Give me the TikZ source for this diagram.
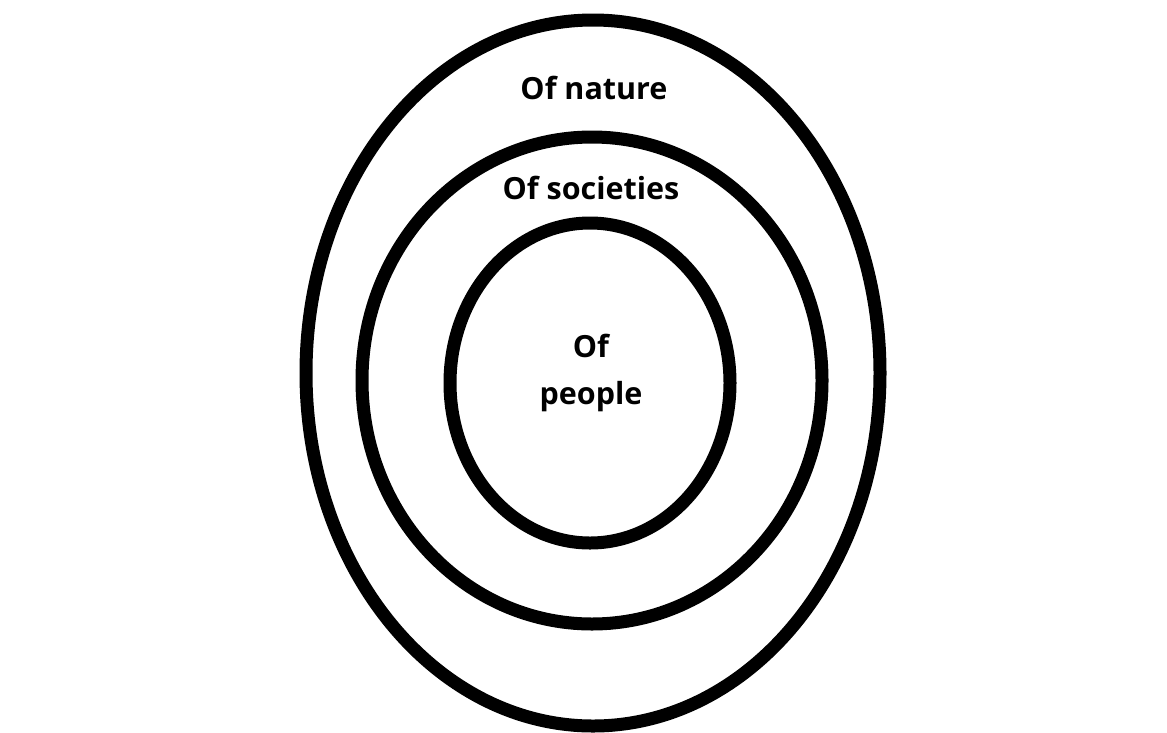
\documentclass[tikz,border=0pt]{standalone}
\usepackage{fontspec}
\setmainfont{Open Sans}
\usetikzlibrary{shapes.geometric}
\begin{document}
\begin{tikzpicture}[x=1pt,y=-1pt,
  ring/.style={draw=black, line width=13pt, ellipse, inner sep=0pt, outer sep=0pt},
  lbl/.style={font=\fontsize{30.5}{47}\selectfont\bfseries, inner sep=0pt, align=center}]
\useasboundingbox (0,0) rectangle (1167,732);
\node[ring, minimum width=574pt, minimum height=706pt] (outer) at (593,373) {};
\node[ring, minimum width=460pt, minimum height=487pt] (middle) at (592,380.5) {};
\node[ring, minimum width=280pt, minimum height=320pt] (inner) at (590,383) {};
\node[lbl, anchor=base] (nature) at (594,99) {Of nature};
\node[lbl, anchor=base] (societies) at (591,199) {Of societies};
\node[lbl, anchor=base] (people) at (591,404) {Of\\people};
\end{tikzpicture}
\end{document}
